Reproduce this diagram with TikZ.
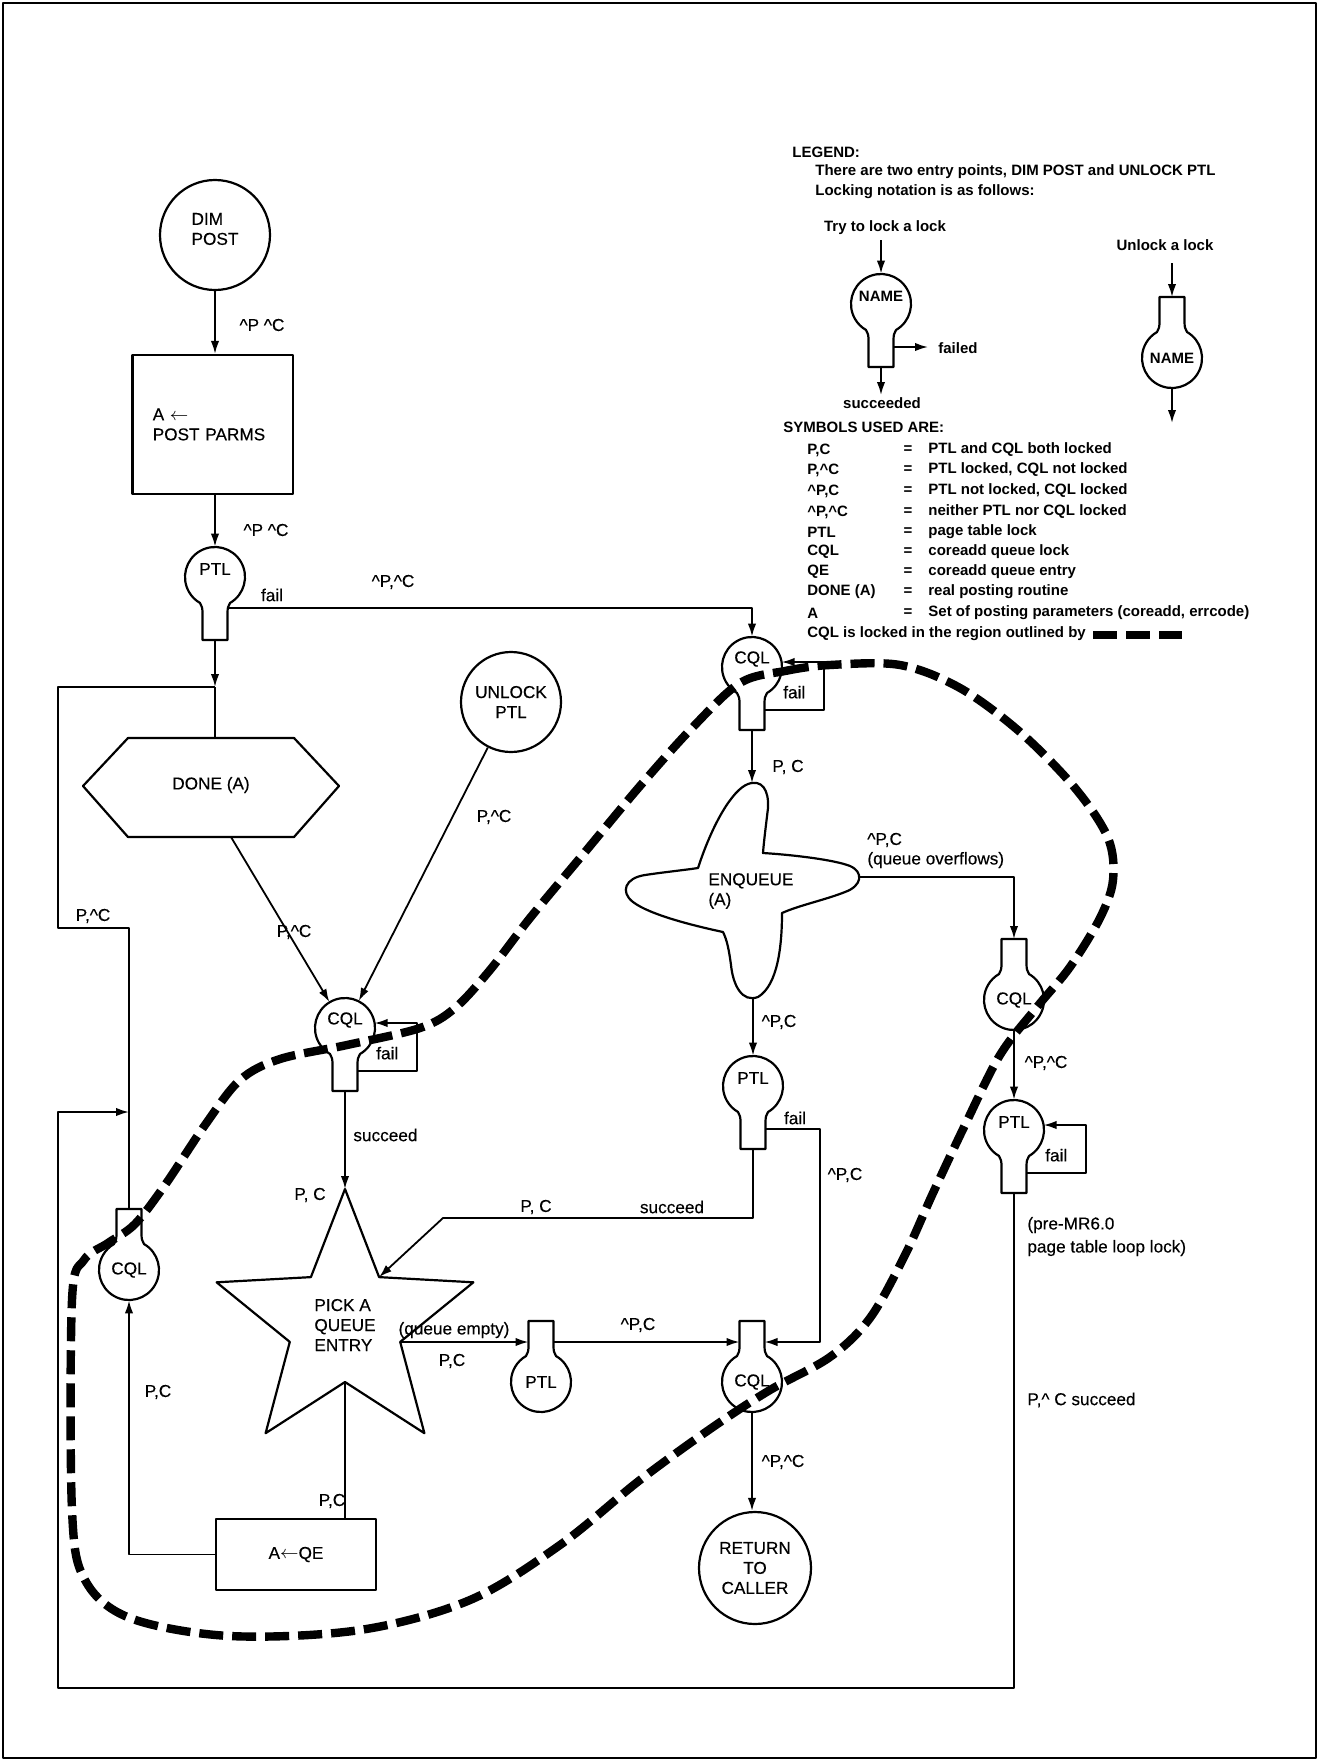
\documentclass[tikz,border=0pt]{standalone}
\usepackage{fontspec}
\setmainfont{Liberation Sans}[UprightFeatures={FakeBold=0.3}]
\usetikzlibrary{arrows.meta}
\newcommand\ncaret{\textasciicircum}
\tikzset{
  conn/.style={line width=0.9pt},
  arr/.style={conn,-{Latex[length=6.5pt,width=4.2pt]}},
  shp/.style={line width=1.1pt},
  lb/.style={inner sep=0pt},
  legfont/.style={font=\fontsize{7.5}{9}\selectfont\bfseries},
  lg/.style={inner sep=0pt,anchor=west},
  cqlzone/.style={line width=4.2pt,dash pattern=on 12pt off 4.5pt},
  trylock/.pic={
    \draw[shp,fill=white] (12.5,63) -- (12.5,37) .. controls (12.5,31) and (13,29) .. (60:30)
      arc[start angle=60,end angle=-240,radius=30]
      .. controls (-13,29) and (-12.5,31) .. (-12.5,37) -- (-12.5,63) -- cycle;
    \node[circle,minimum size=30pt,inner sep=0pt] (-c) at (0,0) {};
    \node[inner sep=0pt] (-tx) at (0,-8) {#1};
    \coordinate (-b) at (0,63);
    \coordinate (-sh) at (12.5,31);
    \coordinate (-fs) at (12.5,43);
    \coordinate (-fe) at (29.6,-5);
  },
  unlock/.pic={
    \draw[shp,fill=white] (12.5,-61) -- (12.5,-37) .. controls (12.5,-31) and (13,-29) .. (-60:30)
      arc[start angle=-60,end angle=240,radius=30]
      .. controls (-13,-29) and (-12.5,-31) .. (-12.5,-37) -- (-12.5,-61) -- cycle;
    \node[circle,minimum size=30pt,inner sep=0pt] (-c) at (0,0) {};
    \node[inner sep=0pt] (-tx) at (0,0) {#1};
    \coordinate (-t) at (0,-61);
    \coordinate (-nl) at (-12.5,-40);
    \coordinate (-nr) at (12.5,-40);
  }
}
\begin{document}
\begin{tikzpicture}[x=0.5pt,y=-0.5pt,font=\fontsize{8.6}{10}\selectfont,line join=round]
\useasboundingbox (0,0) rectangle (1321,1761);
\draw[line width=1.4pt] (3,3) rectangle (1316,1758);

% ---------------- legend ----------------
\begin{scope}[legfont]
\node[lg] (lgh) at (792,152) {LEGEND:};
\node[lg] (lg1) at (815,172) {There are two entry points, DIM POST and UNLOCK PTL};
\node[lg] (lg2) at (815,192) {Locking notation is as follows:};
\node[lb] (lgtry) at (885,228) {Try to lock a lock};
\node[lb] (lgun) at (1165,245) {Unlock a lock};
\pic (lgT) at (881,304) {trylock=NAME};
\coordinate (lgA) at (881,240);
\coordinate (lgS) at (881,395);
\coordinate (lgF) at (928,347);
\draw[arr] (lgA) -- (lgT-c.north);
\draw[arr] (lgT-b) -- (lgS);
\draw[arr] (lgT-fs) -- (lgF);
\node[lb] (lgsu) at (882,403) {succeeded};
\node[lg] (lgfa) at (938,348) {failed};
\pic (lgU) at (1172,358) {unlock=NAME};
\coordinate (lgB) at (1172,263);
\coordinate (lgC) at (1172,423);
\draw[arr] (lgB) -- (lgU-t);
\draw[arr] (lgU-c.south) -- (lgC);
\node[lg] (lgsy) at (783,427) {SYMBOLS USED ARE:};
\foreach \y/\s/\d [count=\i] in {
  450/{P,C}/{PTL and CQL both locked},
  470/{P,\ncaret C}/{PTL locked, CQL not locked},
  491/{\ncaret P,C}/{PTL not locked, CQL locked},
  512/{\ncaret P,\ncaret C}/{neither PTL nor CQL locked},
  532/{PTL}/{page table lock},
  552/{CQL}/{coreadd queue lock},
  572/{QE}/{coreadd queue entry},
  592/{DONE (A)}/{real posting routine},
  613/{A}/{Set of posting parameters (coreadd, errcode)}}{
  \node[lg] (sym\i) at (807,\y) {\s};
  \node[lb] (eq\i) at (908,\y) {=};
  \node[lg] (des\i) at (928,\y) {\d};
}
\node[lg] (lgl) at (807,634) {CQL is locked in the region outlined by};
\coordinate (lgd1) at (1093,635);
\coordinate (lgd2) at (1182,635);
\draw[cqlzone] (lgd1) -- (lgd2);
\end{scope}

% ---------------- main nodes ----------------
\node[circle,draw,shp,minimum size=55pt,inner sep=0pt] (dimpost) at (215,235) {};
\node[lb,align=left] (dimposttx) at (215,229) {DIM\\POST};
\node[draw,shp,text width=60pt,inner xsep=10.1pt,minimum height=69.5pt,align=left] (parms) at (212.75,424.5) {A $\leftarrow$\\POST PARMS};
\pic (ptlA) at (215,577) {trylock=PTL};

\draw[shp] (83,786) coordinate (doneL) -- (128,738) -- (294,738) -- (339,786) -- (294,837) -- (128,837) -- cycle;
\node[lb] (done) at (211,785) {DONE (A)};
\coordinate (doneT) at (215,738);
\coordinate (doneB) at (231,837);

\node[circle,draw,shp,minimum size=50pt,inner sep=0pt,align=center] (unlockptl) at (511,702) {UNLOCK\\PTL};
\pic (cqlB) at (345,1028) {trylock=CQL};

% star
\draw[shp] (345,1189) coordinate (so1) -- (310.9,1277.1) coordinate (si1) -- (216.6,1282.3) coordinate (so2)
  -- (289.8,1341.9) coordinate (si2) -- (265.6,1433.2) coordinate (so3) -- (345,1382) coordinate (si3)
  -- (424.4,1433.2) coordinate (so4) -- (400.2,1341.9) coordinate (si4) -- (473.4,1282.3) coordinate (so5)
  -- (379.1,1277.1) coordinate (si5) -- cycle;
\node[lb,align=left] (pick) at (345,1325) {PICK A\\QUEUE\\ENTRY};

\node[draw,shp,minimum width=80pt,minimum height=35.5pt] (qbox) at (296,1554.5) {A$\leftarrow$QE};
\pic (cqlL) at (129,1270) {unlock=CQL};

\pic (cqlT) at (752,667) {trylock=CQL};
% enqueue
\draw[shp] (698,868) .. controls (712,825) and (732,790) .. (748,784)
  .. controls (762,779) and (769,790) .. (768,808)
  .. controls (766,825) and (764,840) .. (763,853)
  .. controls (795,855) and (835,860) .. (850,866)
  .. controls (864,872) and (862,886) .. (845,892)
  .. controls (825,900) and (800,905) .. (782,913)
  .. controls (782,945) and (778,985) .. (758,997)
  .. controls (742,1003) and (733,985) .. (731,965)
  .. controls (729,950) and (727,940) .. (723,932)
  .. controls (695,926) and (650,915) .. (633,902)
  .. controls (620,892) and (625,878) .. (645,875)
  .. controls (665,872) and (685,870) .. (698,868) -- cycle;
\coordinate (enqT) at (752,783);
\coordinate (enqR) at (858,877);
\coordinate (enqB) at (753,998);
\node[lb,anchor=west,align=left] (enq) at (708,891) {ENQUEUE\\(A)};

\pic (ptlM) at (753,1086) {trylock=PTL};
\pic (ptlL) at (541,1382) {unlock=PTL};
\pic (cqlD) at (752,1382) {unlock=CQL};
\node[circle,draw,shp,minimum size=56pt,inner sep=0pt,align=center] (ret) at (755,1568) {RETURN\\TO\\CALLER};
\pic (cqlR) at (1014,1000) {unlock=CQL};
\pic (ptlR) at (1014,1130) {trylock=PTL};

% ---------------- connectors ----------------
\draw[arr] (dimpost.south) -- (dimpost.south |- parms.north);
\draw[arr] (ptlA-c.north |- parms.south) -- (ptlA-c.north);
\coordinate (jn) at (215,687);
\draw[arr] (ptlA-b) -- (jn);
\draw[conn] (jn) -- (doneT);
\draw[arr] (ptlA-sh) -- (ptlA-sh -| cqlT-c.north) -- (cqlT-c.north);
\draw[arr] (cqlT-b) -- (enqT);
\draw[arr] (cqlT-fs) -- ++(59.5,0) node[midway,above=2pt] (failT) {fail} |- (cqlT-fe);
\draw[arr] (enqR) -- (enqR -| cqlR-t) -- (cqlR-t);
\draw[arr] (enqB) -- (ptlM-c.north);
\coordinate (pf1) at (820,1129);
\coordinate (pf2) at (820,1342);
\draw[arr] (ptlM-fs) -- (pf1) -- (pf2) -- (cqlD-nr);
\coordinate (ps1) at (753,1218);
\coordinate (ps2) at (443,1218);
\draw[arr] (ptlM-b) -- (ps1) -- (ps2) -- (si5);
\draw[arr] (doneB) -- (cqlB-c);
\draw[arr] (unlockptl) -- (cqlB-c);
\draw[arr] (cqlB-fs) -- ++(59.5,0) node[midway,above=2pt] (failB) {fail} |- (cqlB-fe);
\draw[arr] (cqlB-b) -- (so1);
\draw[arr] (si4) -- (ptlL-nl);
\draw[arr] (ptlL-nr) -- (cqlD-nl);
\draw[arr] (cqlD-c.south) -- (cqlD-c.south |- ret.north);
\draw[conn] (si3) -- (si3 |- qbox.north);
\draw[arr] (qbox.west) -- (qbox.west -| cqlL-c.south) -- (cqlL-c.south);
\coordinate (ul1) at (129,928);
\coordinate (ul2) at (58,928);
\coordinate (ul3) at (58,687);
\draw[conn] (cqlL-t) -- (ul1) -- (ul2) -- (ul3) -- (jn);
\coordinate (ll1) at (1014,1688);
\coordinate (ll2) at (58,1688);
\coordinate (ll3) at (58,1112);
\coordinate (ll4) at (129,1112);
\draw[arr] (ptlR-b) -- (ll1) -- (ll2) -- (ll3) -- (ll4);
\draw[arr] (cqlR-c.south) -- (ptlR-c.north);
\draw[arr] (ptlR-fs) -- ++(59.5,0) node[midway,above=2pt] (failR) {fail} |- (ptlR-fe);

% ---------------- labels ----------------
\node[lb] (t1) at (262,325) {\ncaret P \ncaret C};
\node[lb] (t2) at (266,530) {\ncaret P \ncaret C};
\node[lb] (t3) at (272,595) {fail};
\node[lb] (t4) at (393,582) {\ncaret P,\ncaret C};
\node[lb] (t5) at (788,767) {P, C};
\node[lb,anchor=west] (t6) at (867,840) {\ncaret P,C};
\node[lb,anchor=west] (t7) at (867,860) {(queue overflows)};
\node[lb] (t8) at (294,932) {P,\ncaret C};
\node[lb] (t9) at (494,817) {P,\ncaret C};
\node[lb] (t10) at (93,916) {P,\ncaret C};
\node[lb] (t11) at (779,1022) {\ncaret P,C};
\node[lb] (t12) at (795,1118) {fail};
\node[lb] (t13) at (845,1175) {\ncaret P,C};
\node[lb,anchor=west] (t14) at (353,1135) {succeed};
\node[lb] (t15) at (310,1195) {P, C};
\node[lb] (t16) at (536,1207) {P, C};
\node[lb] (t17) at (672,1207) {succeed};
\node[lb] (t18) at (454,1330) {(queue empty)};
\node[lb] (t19) at (452,1361) {P,C};
\node[lb] (t20) at (638,1325) {\ncaret P,C};
\node[lb] (t21) at (158,1392) {P,C};
\node[lb] (t22) at (332,1501) {P,C};
\node[lb] (t23) at (783,1462) {\ncaret P,\ncaret C};
\node[lb] (t24) at (1046,1063) {\ncaret P,\ncaret C};
\node[lb,anchor=west] (t25) at (1027,1225) {(pre-MR6.0};
\node[lb,anchor=west] (t26) at (1027,1248) {page table loop lock)};
\node[lb,anchor=west] (t27) at (1027,1400) {P,\ncaret\ C succeed};

% ---------------- CQL locked region ----------------
\draw[cqlzone] plot[smooth cycle,tension=0.55] coordinates {(740,683) (785,671) (830,665) (900,665) (960,688) (1020,732) (1075,788) (1108,838) (1113,880) (1100,918) (1070,967) (1037,1007) (1000,1055) (965,1125) (933,1193) (905,1255) (870,1318) (830,1357) (770,1390) (713,1427) (640,1480) (560,1545) (470,1600) (360,1630) (230,1636) (130,1618) (85,1580) (72,1510) (72,1300) (84,1260) (108,1243) (135,1224) (165,1185) (205,1125) (240,1080) (280,1059) (347,1045) (420,1028) (455,1008) (490,970) (530,918) (585,852) (640,786) (692,728)};
\end{tikzpicture}
\end{document}
